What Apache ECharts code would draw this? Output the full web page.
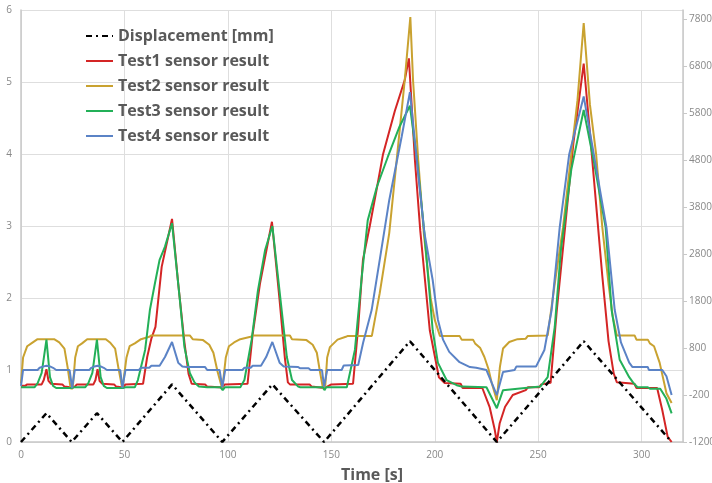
<!DOCTYPE html>
<html>
<head>
<meta charset="utf-8">
<script src="https://cdn.jsdelivr.net/npm/echarts@6/dist/echarts.min.js"></script>
<style>
  html, body { margin: 0; padding: 0; background: #fff; }
  #chart { width: 712px; height: 483px; }
</style>
</head>
<body>
<div id="chart"></div>
<script>
// legend names
const seriesNames = ['Displacement [mm]', 'Test1 sensor result', 'Test2 sensor result', 'Test3 sensor result', 'Test4 sensor result'];
// right axis tick labels
const rightTicks = [-1200, -200, 800, 1800, 2800, 3800, 4800, 5800, 6800, 7800];

// displacement (left axis), [time s, mm]
const displacement = [[0, 0], [12.3, 0.4], [24.5, 0], [36.7, 0.4], [49, 0], [73, 0.8], [97.3, 0], [121.5, 0.8], [146.5, 0], [188, 1.4], [230, 0], [272, 1.4], [314.5, 0]];

// sensor results (right axis), [time s, value]
const test1 = [[0, -4], [2, -4], [3, 27], [10, 27], [11, 120], [12.3, 350], [13.3, 100], [14.5, 40], [20, 27], [21, -20], [24.5, -40],
  [26, -20], [27, 27], [35, 27], [36, 120], [37, 350], [38, 100], [39.3, 40], [45, 27], [46, -20], [49.3, -40],
  [50.5, 27], [59, 40], [61, 610], [63, 1000], [65, 1250], [68, 2530], [73, 3550], [76, 2170], [79, 920], [81, 250], [82.5, 40], [89, 27], [90, -20], [97.3, -40],
  [98.5, 27], [109.5, 40], [112, 1100], [115.5, 2170], [121.3, 3490], [125, 1820], [127.5, 610], [129, 70], [130, 27], [139.5, 27], [140.5, -20], [146.5, -50],
  [148, -20], [150, 27], [160.5, 40], [163, 1250], [165.3, 2680], [168.6, 3400], [172.5, 4320], [175, 4930], [180.7, 5850], [185.5, 6510], [187.5, 6970],
  [190.4, 4810], [193, 3300], [197.6, 1180], [202, 180], [204.8, 57], [212.5, 40], [213.5, -50], [223, -50], [226.5, -450], [229, -940], [230, -1200],
  [231.4, -800], [234, -450], [237.7, -200], [244, -96], [245, -35], [250.5, -35], [251.5, 27],
  [256, 60], [259, 1610], [263, 3370], [267, 5160], [272, 6860], [275, 5390], [278, 3860], [281, 2330], [284, 950], [286.5, 260], [288, 73],
  [296.5, 40], [297.5, -50], [307.5, -50], [310, -525], [312.6, -1090], [314.5, -1200]];

const test2 = [[0, 50], [1, 600], [3, 840], [5, 900], [8, 990], [16, 990], [18.5, 920], [21, 790], [22.5, 400], [24, -60], [25, -60],
  [26.2, 600], [27.5, 840], [29.5, 900], [32, 990], [41, 990], [43, 920], [45.5, 790], [47, 400], [49, -70], [49.8, -70],
  [51, 600], [52.5, 840], [55, 900], [58, 990], [62, 1040], [63, 1070], [81.6, 1070], [83, 990], [88, 970], [91, 870], [93, 700], [95, 300], [97.3, -70], [98, -70],
  [99, 600], [100.5, 840], [103, 920], [106, 990], [111, 1040], [112, 1070], [130, 1070], [131, 990], [138, 970], [141, 870], [143, 700], [144.5, 300], [146, -60], [147, -60],
  [148, 600], [149.3, 820], [153, 980], [157, 1040], [158, 1060], [169.6, 1060], [173.4, 1970], [178, 3250], [181.6, 4810], [185.5, 6510], [188.2, 7850],
  [189.5, 6510], [192, 4810], [194.7, 3250], [198, 1870], [200, 1400], [202.5, 1060], [212, 1060], [213, 980], [218.5, 980], [219.5, 900], [222, 800],
  [224, 610], [226, 350], [227.5, 60], [230, -310], [231.5, 400], [233, 790], [236, 930], [240, 990], [244, 1000], [245, 1060], [254.6, 1070],
  [258, 2170], [262, 3370], [266, 4930], [269, 6080], [272, 7720], [275, 5990], [278, 4930], [281, 3370], [284, 2170], [286, 1480], [288, 1070],
  [296.6, 1070], [297.5, 980], [303, 980], [304, 900], [306, 840], [308.7, 490], [312, -160], [314.5, -370]];

const test3 = [[0, -35], [6.5, -35], [8, 50], [10, 270], [12.3, 980], [14, 180], [15.5, -4], [17, -50], [24.5, -50],
  [25.5, -35], [31, -35], [32.5, 50], [34.5, 270], [36.7, 980], [38.5, 180], [40, -4], [41.5, -50], [49.3, -50],
  [50.5, -35], [55, -35], [56.5, 120], [60, 760], [62.3, 1610], [64.7, 2170], [67, 2680], [69.6, 2960], [73, 3460], [76.8, 1820], [79, 820], [81.6, 270], [84, 60], [86, -20], [90, -35], [96.5, -35], [97.5, -96], [98.5, -35],
  [106, -35], [108, 120], [111.5, 980], [114.5, 2020], [118, 2890], [121.5, 3400], [126, 1610], [128.5, 610], [131, 120], [134, -20], [135, -35], [146, -35], [146.7, -96], [147.5, -35],
  [157.5, -35], [161.4, 760], [164.7, 2310], [167.6, 3520], [172, 4230], [177.3, 4870], [183, 5520], [188, 5960], [191.5, 4780], [195, 3250], [199, 1180],
  [201.5, 490], [205.7, 120], [210.6, 10], [213, -20], [225, -35], [230, -480], [233, -96], [240, -65], [251, -20],
  [254.6, 180], [258, 1250], [261, 2890], [266, 4600], [272, 5870], [277, 4750], [282.6, 3370], [285.5, 1610], [289.4, 550], [294, 180], [296, 60],
  [298, -35], [303, -35], [304, -65], [309, -65], [312, -280], [314.5, -590]];

const test4 = [[0, -4], [1, 333], [8, 333], [9, 380], [11, 410], [12.3, 425], [14, 410], [15.5, 380], [17, 333], [23.5, 333], [24.7, -50], [26, 333],
  [33, 333], [34, 380], [35.5, 410], [37, 425], [38.5, 410], [40, 380], [41.5, 333], [48, 333], [49, -50], [50.5, 333],
  [57, 333], [58, 380], [62, 380], [63, 425], [67, 425], [69.6, 610], [73, 930], [76, 490], [78, 410], [80, 395], [89, 395], [90, 333], [96, 333], [97.3, -35], [98.7, 333],
  [107, 333], [108, 380], [111, 380], [112, 425], [116, 425], [118.5, 610], [121.5, 930], [125, 490], [127, 410], [134, 395], [135, 370], [139, 370], [140, 333], [145.5, 333], [146.5, -20], [148, 333],
  [155, 333], [156, 430], [163, 440], [165.4, 920], [169.5, 1610], [173.4, 2680], [178, 3950], [184, 5300], [188, 6250], [191.3, 4810], [195, 3250], [199, 2250],
  [201.5, 1410], [204, 980], [207, 720], [212, 500], [217, 395], [220, 380], [225, 333], [230, -200], [233, 290], [238.6, 333], [239.5, 410], [249, 410],
  [253, 760], [256.5, 1610], [260.4, 3370], [265, 4930], [272, 6160], [277, 4900], [283, 3370], [287, 1610], [290, 920], [294, 490], [295.6, 395],
  [303, 395], [303.5, 333], [310, 333], [312, 200], [314.5, -200]];

const colors = ['#000000', '#d42525', '#c9a230', '#23b058', '#5b83c6'];
const sensorData = [test1, test2, test3, test4];

const labelFont = { color: '#888', fontSize: 10, fontFamily: 'Open Sans' };

let chart = echarts.init(document.getElementById('chart'), null, { renderer: 'canvas' });

let series = [{
  name: seriesNames[0],
  type: 'line',
  yAxisIndex: 0,
  data: displacement,
  symbol: 'none',
  lineStyle: { color: colors[0], width: 2.5, type: [6, 4, 2, 4] },
  itemStyle: { color: colors[0] },
  z: 3
}];
sensorData.forEach(function (d, i) {
  series.push({
    name: seriesNames[i + 1],
    type: 'line',
    yAxisIndex: 1,
    data: d,
    symbol: 'none',
    lineStyle: { color: colors[i + 1], width: 2 },
    itemStyle: { color: colors[i + 1] },
    z: 2
  });
});

chart.setOption({
  animation: false,
  backgroundColor: '#fff',
  // keep the plot box fixed, labels sit outside it
  grid: { left: 21, right: 29, top: 10, bottom: 41, outerBoundsMode: 'none' },
  legend: {
    orient: 'vertical',
    left: 80,
    top: 21,
    itemWidth: 27,
    itemHeight: 14,
    itemGap: 5,
    data: seriesNames,
    // hide the legend symbol, keep only the line
    itemStyle: { opacity: 0 },
    textStyle: { color: '#595959', fontSize: 16, fontWeight: 'bold', fontFamily: 'Open Sans', lineHeight: 20 }
  },
  xAxis: {
    type: 'value',
    min: 0,
    max: 320,
    interval: 50,
    name: 'Time [s]',
    nameLocation: 'middle',
    nameGap: 25,
    nameTextStyle: { color: '#595959', fontSize: 16, fontWeight: 'bold', fontFamily: 'Open Sans', padding: [0, 0, 0, 40] },
    axisLine: { lineStyle: { color: '#c8c8c8', width: 1.5 } },
    axisTick: { show: false },
    axisLabel: Object.assign({ showMaxLabel: false, margin: 8 }, labelFont),
    splitLine: { lineStyle: { color: '#dedede' } }
  },
  yAxis: [{
    type: 'value',
    min: 0,
    max: 6,
    interval: 1,
    position: 'left',
    axisLine: { show: true, lineStyle: { color: '#c8c8c8', width: 1.5 } },
    axisTick: { show: false },
    axisLabel: Object.assign({ margin: 9 }, labelFont),
    splitLine: { lineStyle: { color: '#dedede' } }
  }, {
    type: 'value',
    min: -1200,
    max: 8000,
    position: 'right',
    axisLine: { show: true, lineStyle: { color: '#c8c8c8', width: 1.5 } },
    axisTick: { show: true, length: 4, customValues: rightTicks, lineStyle: { color: '#c8c8c8' } },
    axisLabel: Object.assign({
      margin: 6,
      customValues: rightTicks,
      formatter: function (v) { return String(v); }
    }, labelFont),
    splitLine: { show: false }
  }],
  series: series
});
</script>
</body>
</html>
